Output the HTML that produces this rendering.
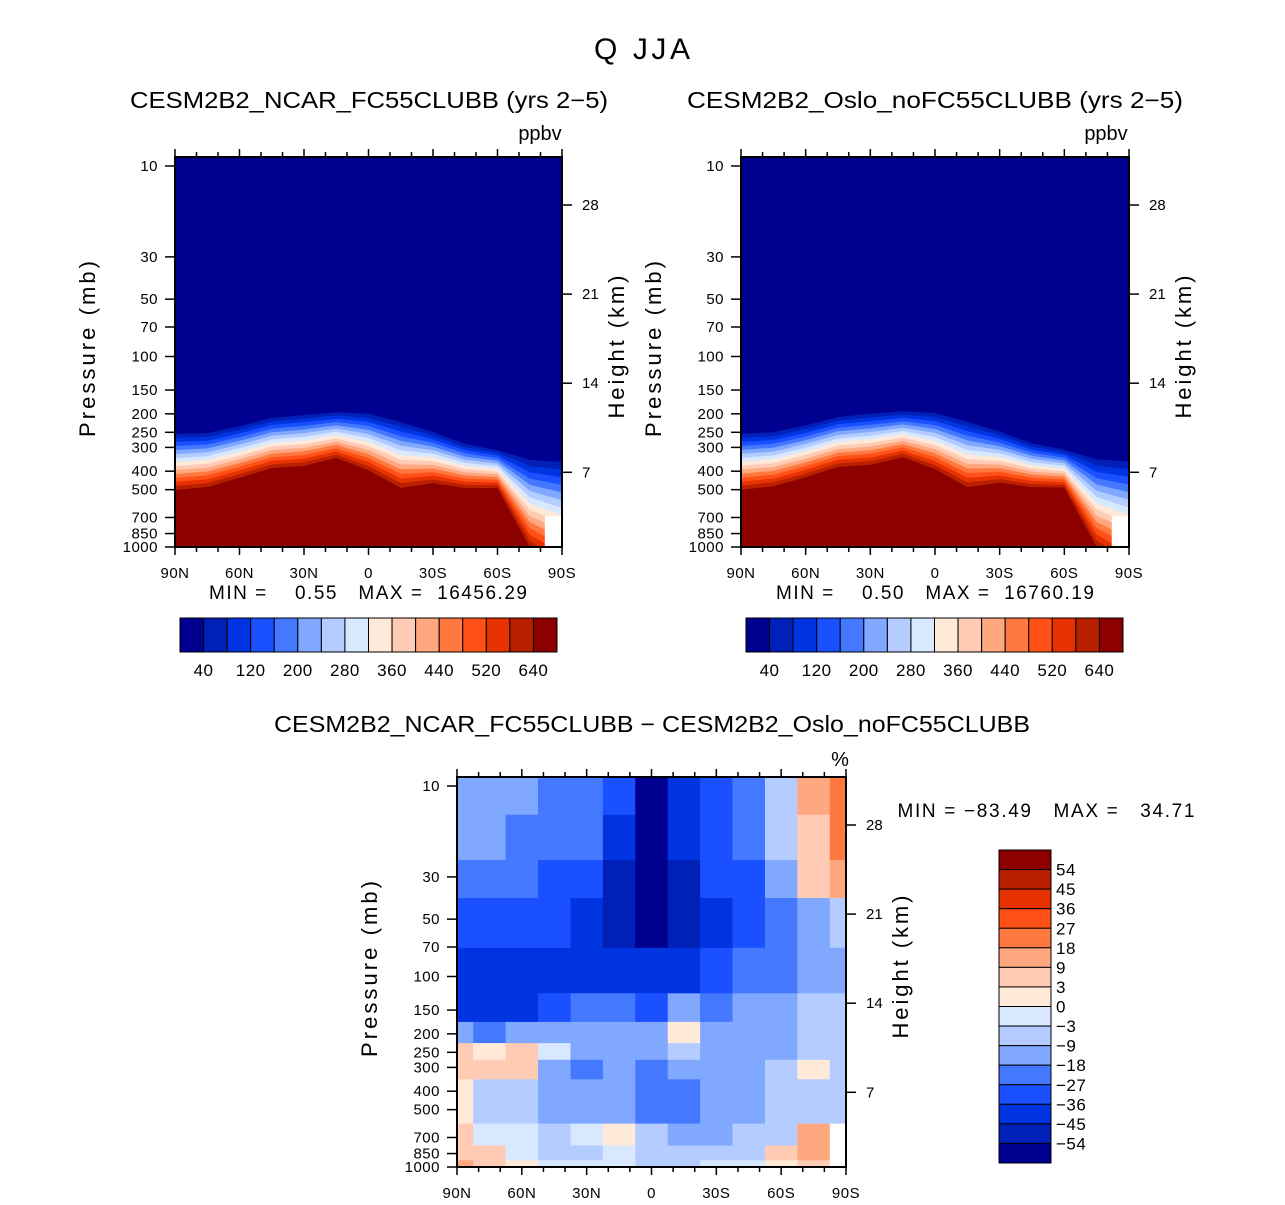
<!DOCTYPE html>
<html><head><meta charset="utf-8"><style>
html,body{margin:0;padding:0;background:#fff;}
svg{display:block;font-family:"Liberation Sans",sans-serif;}
</style></head><body>
<svg id="fig" width="1285" height="1205" viewBox="0 0 1285 1205" xmlns="http://www.w3.org/2000/svg">
<text x="642" y="59" font-size="30" text-anchor="middle" textLength="96">Q  JJA</text>
<text x="369" y="108" font-size="23" text-anchor="middle" textLength="478" lengthAdjust="spacingAndGlyphs">CESM2B2_NCAR_FC55CLUBB (yrs 2−5)</text>
<text x="935" y="108" font-size="23" text-anchor="middle" textLength="496" lengthAdjust="spacingAndGlyphs">CESM2B2_Oslo_noFC55CLUBB (yrs 2−5)</text>
<text x="540" y="140" font-size="20" text-anchor="middle">ppbv</text>
<text x="1106" y="140" font-size="20" text-anchor="middle">ppbv</text>
<text x="368" y="599" font-size="19" text-anchor="middle" xml:space="preserve" textLength="318">MIN =    0.55   MAX =  16456.29</text>
<text x="935" y="599" font-size="19" text-anchor="middle" xml:space="preserve" textLength="318">MIN =    0.50   MAX =  16760.19</text>
<text x="652" y="732" font-size="23" text-anchor="middle" textLength="756" lengthAdjust="spacingAndGlyphs">CESM2B2_NCAR_FC55CLUBB − CESM2B2_Oslo_noFC55CLUBB</text>
<text x="840" y="766" font-size="20" text-anchor="middle">%</text>
<text x="1046" y="817" font-size="19" text-anchor="middle" xml:space="preserve" textLength="297">MIN = −83.49   MAX =   34.71</text>
</svg>
<script>
// ---- data ----
const lats = [90,75,60,45,30,15,0,-15,-30,-45,-60,-75,-90];
// pressure (mb) of the 640 ppbv contour (tropopause base) per latitude
const leftRedP  = [502,484,434,385,375,341,395,490,462,490,490,1000,1300];
const leftTopP  = [255,252,232,210,203,196,200,221,249,288,310,349,358];
const rightRedP = [500,480,430,380,370,338,390,485,460,485,488,1000,1300];
const rightTopP = [255,250,230,208,200,194,198,220,248,286,308,347,356];
const topLevels = [40,80,120,160,200,240,280,320,360,400,440,480,520,560,600];
const topTickLabels = ['40','120','200','280','360','440','520','640'];
const diffLevels = [-54,-45,-36,-27,-18,-9,-3,0,3,9,18,27,36,45,54];
const diffPlev = [10,20,30,50,100,150,200,250,300,400,500,700,850,1000];
const diffVals = [
 [-15,-15,-15,-20,-20,-35,-60,-40,-30,-20,-5,10,25],
 [-15,-15,-18,-20,-25,-38,-60,-42,-32,-22,-8,8,20],
 [-20,-20,-20,-30,-35,-45,-60,-45,-35,-30,-15,5,10],
 [-35,-35,-35,-35,-38,-45,-55,-48,-40,-30,-20,-15,-5],
 [-40,-40,-40,-40,-40,-40,-38,-40,-30,-25,-18,-12,-10],
 [-40,-40,-40,-30,-25,-20,-28,-15,-20,-15,-15,-8,-8],
 [-10,-20,-15,-15,-12,-12,-15,2,-10,-10,-12,-8,-8],
 [5,2,6,-2,-15,-15,-12,-5,-10,-10,-10,-5,-8],
 [5,5,6,-10,-20,-12,-20,-15,-10,-10,-5,2,-5],
 [2,-8,-5,-12,-12,-15,-25,-20,-12,-10,-8,-5,-6],
 [2,-5,-5,-12,-12,-12,-20,-20,-12,-12,-8,-8,-6],
 [4,0,-2,-5,-2,2,-8,-12,-10,-5,-5,15,null],
 [8,4,0,-3,-6,-2,-5,-8,-5,-3,5,10,null],
 [10,6,2,0,-2,-2,-3,-3,-1,-2,1,5,null]
];
const diffCbLabels = ['54','45','36','27','18','9','3','0','−3','−9','−18','−27','−36','−45','−54'];
const pTicks = [10,30,50,70,100,150,200,250,300,400,500,700,850,1000];
const hTicks = [28,21,14,7];
const xTickLabels = ['90N','60N','30N','0','30S','60S','90S'];
const colors = ['#000090','#0020b8','#0034e0','#1a50ff','#4478ff','#80a8ff','#b4ccff','#d8e8ff','#ffe9d8','#ffcbb4','#ffa880','#ff7840','#ff5018','#e63200','#b82000','#8c0000'];

const NS='http://www.w3.org/2000/svg';
const svg=document.getElementById('fig');
function mk(tag,attrs,parent){const e=document.createElementNS(NS,tag);for(const k in attrs)e.setAttribute(k,attrs[k]);(parent||svg).appendChild(e);return e;}

function axes(x0,y0,w,h){
  const xs=lat=>x0+(90-lat)/180*w;
  const ys=p=>(y0+9)+(Math.log10(p)-1)/2*(h-9);
  return {xs,ys};
}

function frame(x0,y0,w,h,ax,prefix,ylabx,hlabx){
  const g=mk('g',{});
  
  
  mk('rect',{x:x0,y:y0,width:w,height:h,fill:'none',stroke:'#000','stroke-width':2},g);
  for(let lat=90;lat>=-90;lat-=10){
    const x=ax.xs(lat);const major=(lat%30===0);const L=major?8:5;
    mk('line',{x1:x,y1:y0,x2:x,y2:y0-L,stroke:'#000','stroke-width':1.5},g);
    mk('line',{x1:x,y1:y0+h,x2:x,y2:y0+h+L,stroke:'#000','stroke-width':1.5},g);
  }
  xTickLabels.forEach((t,i)=>{
    const lab=mk('text',{x:ax.xs(90-30*i),y:y0+h+31,'font-size':15,'text-anchor':'middle','letter-spacing':0.5},g);
    lab.textContent=t;
    
    
  });
  pTicks.forEach(p=>{
    const y=ax.ys(p);
    mk('line',{x1:x0,y1:y,x2:x0-10,y2:y,stroke:'#000','stroke-width':1.5},g);
    const lab=mk('text',{x:x0-17,y:y+5,'font-size':15,'text-anchor':'end','letter-spacing':0.5},g);
    lab.textContent=String(p);
    
    
  });
  hTicks.forEach(hk=>{
    const p=1190*Math.exp(-hk/6.5);
    const y=ax.ys(p);
    mk('line',{x1:x0+w,y1:y,x2:x0+w+10,y2:y,stroke:'#000','stroke-width':1.5},g);
    const lab=mk('text',{x:x0+w+20,y:y+5,'font-size':15},g);
    lab.textContent=String(hk);
    
    
  });
  const cyp=y0+h/2-3;
  const yl=mk('text',{x:ylabx,y:cyp,'font-size':22,'text-anchor':'middle',textLength:176,transform:`rotate(-90 ${ylabx} ${cyp})`},g);
  yl.textContent='Pressure  (mb)';
  
  
  const cyh=y0+h/2-5;
  const hl=mk('text',{x:hlabx,y:cyh,'font-size':22,'text-anchor':'middle',textLength:143,transform:`rotate(-90 ${hlabx} ${cyh})`},g);
  hl.textContent='Height  (km)';
  
  
}

function topPanel(x0,y0,w,h,redP,topP,prefix){
  const ax=axes(x0,y0,w,h);
  const clipId=prefix+'-clip';
  const cp=mk('clipPath',{id:clipId});
  mk('rect',{x:x0,y:y0,width:w,height:h},cp);
  const g=mk('g',{'clip-path':`url(#${clipId})`});
  
  
  const bg=mk('rect',{x:x0,y:y0,width:w,height:h,fill:colors[0]},g);
  
  
  topLevels.forEach((lev,k)=>{
    const f=k/(topLevels.length-1);
    let d='';
    lats.forEach((lat,i)=>{
      const lp=Math.log10(topP[i])+f*(Math.log10(redP[i])-Math.log10(topP[i]));
      const y=ax.ys(Math.pow(10,lp));
      d+=(i?'L':'M')+ax.xs(lat).toFixed(1)+' '+y.toFixed(1)+' ';
    });
    d+=`L${x0+w} ${y0+h+5} L${x0} ${y0+h+5} Z`;
    const band=mk('path',{d:d,fill:colors[k+1]},g);
    
    
  });
  const miss=mk('rect',{x:ax.xs(-82),y:ax.ys(690),width:w,height:h,fill:'#fff'},g);
  
  
  frame(x0,y0,w,h,ax,prefix,x0-80,x0+w+62);
}

function hColorbar(x0,y0,w,h,prefix){
  const g=mk('g',{});
  
  
  const bw=w/colors.length;
  colors.forEach((c,i)=>{
    const r=mk('rect',{x:x0+i*bw,y:y0,width:bw,height:h,fill:c,stroke:'#000','stroke-width':1},g);
    
    
  });
  topTickLabels.forEach((t,i)=>{
    const b=(i<7)?(2*i+1):15;
    const lab=mk('text',{x:x0+b*bw,y:y0+h+24,'font-size':17,'text-anchor':'middle','letter-spacing':0.5},g);
    lab.textContent=t;
    
    
  });
}

topPanel(175,157,387,390,leftRedP,leftTopP,'left-panel');
topPanel(741,157,388,390,rightRedP,rightTopP,'right-panel');
hColorbar(180,618,377,34,'left');
hColorbar(746,618,377,34,'right');

// ---- difference panel ----
(function(){
  const x0=457,y0=777,w=389,h=390;
  const ax=axes(x0,y0,w,h);
  const cp=mk('clipPath',{id:'diff-clip'});
  mk('rect',{x:x0,y:y0,width:w,height:h},cp);
  const g=mk('g',{'clip-path':'url(#diff-clip)'});
  
  
  function colorOf(v){let k=0;diffLevels.forEach(l=>{if(v>l)k++;});return colors[k];}
  diffPlev.forEach((p,r)=>{
    const pt=r===0?5:Math.sqrt(p*diffPlev[r-1]);
    const pb=r===diffPlev.length-1?1200:Math.sqrt(p*diffPlev[r+1]);
    const yt=ax.ys(pt),yb=ax.ys(pb);
    lats.forEach((lat,c)=>{
      const v=diffVals[r][c];
      const xa=ax.xs(Math.min(90,lat+7.5)),xb=ax.xs(Math.max(-90,lat-7.5));
      const cell=mk('rect',{x:xa.toFixed(1),y:yt.toFixed(1),width:(xb-xa+0.6).toFixed(1),height:(yb-yt+0.6).toFixed(1),fill:v===null?'#fff':colorOf(v)},g);
      
      
    });
  });
  frame(x0,y0,w,h,ax,'diff-panel',x0-80,x0+w+62);
  // vertical colorbar
  const cg=mk('g',{});
  
  
  const cx=999,cy=850,cw=52,ch=313,bh=ch/colors.length;
  colors.slice().reverse().forEach((c,i)=>{
    const r=mk('rect',{x:cx,y:cy+i*bh,width:cw,height:bh,fill:c,stroke:'#000','stroke-width':1},cg);
    
    
  });
  diffCbLabels.forEach((t,i)=>{
    const lab=mk('text',{x:cx+cw+5,y:cy+(i+1)*bh+6,'font-size':17,'letter-spacing':0.5},cg);
    lab.textContent=t;
    
    
  });
})();
</script>
</body></html>
